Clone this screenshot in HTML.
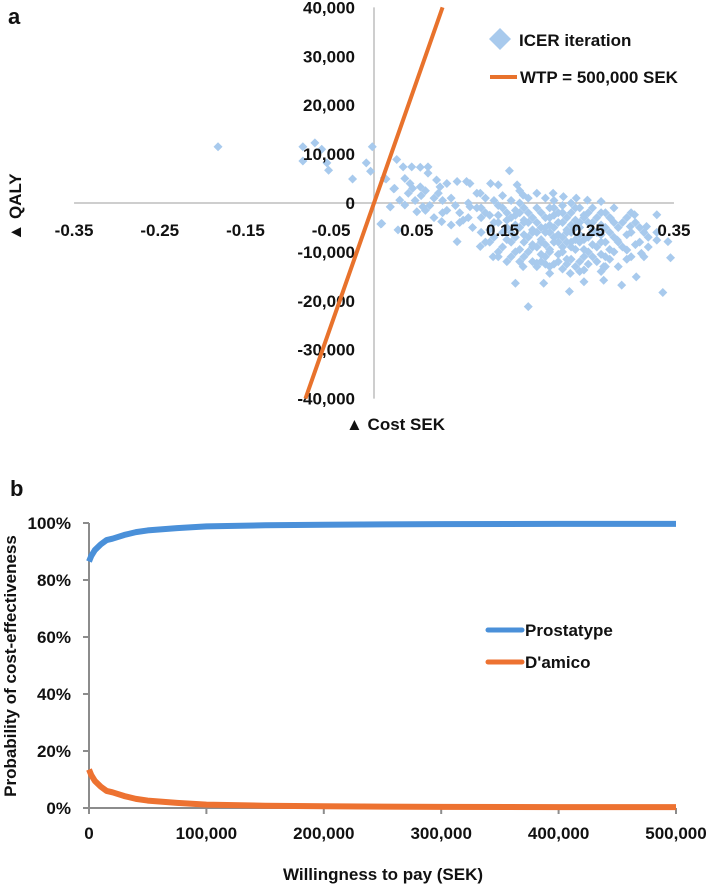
<!DOCTYPE html>
<html><head><meta charset="utf-8"><style>
body{margin:0;background:#fff}
svg{display:block;font-family:"Liberation Sans",Arial,sans-serif;font-weight:bold;fill:#111}
</style></head><body>
<svg id="s" width="708" height="885" viewBox="0 0 708 885">
<text x="8" y="24" font-size="22">a</text>
<text x="10" y="496" font-size="22">b</text>
<g id="ga"></g>
<g id="gb"></g>
</svg>
<script>
const NS='http://www.w3.org/2000/svg';
function mk(p,t,a){const e=document.createElementNS(NS,t);for(const k in a)e.setAttribute(k,a[k]);p.appendChild(e);return e;}
// ---- Chart a data ----
const aXTicks=[-0.35,-0.25,-0.15,-0.05,0.05,0.15,0.25,0.35];
const aXTickLabels=['-0.35','-0.25','-0.15','-0.05','0.05','0.15','0.25','0.35'];
const aYTicks=[40000,30000,20000,10000,0,-10000,-20000,-30000,-40000];
const aYTickLabels=['40,000','30,000','20,000','10,000','0','-10,000','-20,000','-30,000','-40,000'];
const wtp=500000;
const icerX=[-0.182,-0.083,-0.083,-0.069,-0.061,-0.055,-0.053,-0.025,-0.009,-0.004,-0.002,0.012,0.014,0.023,0.008,0.019,0.028,
0.0265,0.034,0.044,0.054,0.063,0.036,0.042,0.054,0.063,0.073,0.077,0.085,0.097,0.108,0.112,0.158,0.024,0.03,0.036,0.019,0.009,0.05,0.057,0.079,0.097,0.104,0.112,0.124,0.139,0.124,0.136,0.145,0.167,0.174,0.209,0.221,0.236,0.249,0.265,0.165,0.18,0.198,0.228,0.245,0.268,0.289,0.306,0.337,0.346,0.343,0.33,0.318,0.33,0.304,0.299,0.276,0.284,0.295,0.312,0.174,0.268,0.229,0.245,0.205,0.19,
0.13,0.14,0.15,0.15,0.16,0.16,0.17,0.17,0.18,0.18,0.18,0.19,0.19,0.19,0.2,0.2,0.2,0.21,0.21,0.21,0.22,0.22,0.22,0.23,0.23,0.23,0.24,0.24,0.24,0.25,0.25,0.25,0.26,0.26,0.27,0.27,0.28,0.28,0.165,0.175,0.185,0.195,0.205,0.215,0.225,0.235,0.245,0.255,0.155,0.145,0.135,0.125,0.12,0.115,0.11,0.1,0.095,0.09,0.085,0.08,0.075,0.07,0.065,0.06,0.055,0.048,0.045,0.04,0.16,0.17,0.19,0.21,0.22,0.23,0.24,0.26,0.27,0.29,0.3,0.31,0.29,0.3,0.32,0.285,0.265,0.15,0.14,0.13,0.155,0.145,0.2,0.19,0.18,0.21,0.22,0.23,0.24,0.25,0.26,0.27,0.28,0.165,0.175,0.185,0.195,0.205,0.215,0.225,0.235,0.245,0.255,0.265,0.275,0.17,0.16,0.2,0.21,0.22,0.23,0.24,0.25,0.18,0.19,0.2,0.21,0.22,0.23,0.24,0.17,0.2,0.27,0.28,0.3,0.31,0.32,0.33,
0.125,0.125,0.135,0.135,0.145,0.145,0.145,0.155,0.155,0.155,0.165,0.165,0.165,0.175,0.175,0.175,0.175,0.185,0.185,0.185,0.185,0.195,0.195,0.195,0.195,0.205,0.205,0.205,0.205,0.205,0.215,0.215,0.215,0.215,0.225,0.225,0.225,0.225,0.235,0.235,0.235,0.235,0.245,0.245,0.245,0.255,0.255,0.255,0.255,0.265,0.265,0.265,0.265,0.275,0.275,0.275,0.285,0.285,0.295,0.295,0.295,0.305,0.305,0.315,0.315,
0.1,0.11,0.12,0.13,0.14,0.15,0.16,0.17,0.06,0.07,0.08,0.09];
const icerY=[11.5,11.5,8.6,12.3,11,8.2,6.7,4.9,8.2,6.5,11.5,5.1,4.9,2.9,-4.3,-0.8,-5.5,
8.9,7.4,7.4,7.3,7.4,5.0,4.0,3.3,6.1,4.7,3.3,4.0,4.4,4.4,4.0,6.6,2.98,0.6,-0.4,-0.76,-4.2,-1.8,-0.76,-3.8,-7.9,-3.5,-0.76,-8.9,-11,2.0,4.0,3.7,3.7,1.6,2.0,1.3,1.0,0.6,0.3,-16.4,-21.2,-16.4,-18.1,-16.1,-15.8,-16.8,-15.1,-18.3,-11.2,-7.9,-2.4,-4.8,-7.6,-2.4,-4.8,-3.1,-7.6,-9.6,-10.3,-13,-13,-14.4,-13.7,-14.4,-12.3,
-2,-4,-1,-6,-3,-8,-5,0,-2,-7,-10,-4,-1,-9,-6,-3,-11,-5,-8,-1,-4,-7,-10,-6,-2,-9,-5,-8,-12,-7,-4,-10,-6,-9,-8,-5,-7,-10,-4.5,-6.5,-5.5,-7.5,-4.5,-6.5,-5.5,-7.5,-9.5,-8.5,-3.5,-2.5,-5.5,-3,-1,-5,-3,-2,-0.5,1,-1.5,0.5,2,1,-0.5,2.5,1.5,0.5,3,2,-11,-12,-13,-12.5,-13.5,-11.5,-14,-12,-11,-9,-6,-8,-4,-11,-7,-13,-14,-9,-7,-8,-12,-10,1,2,1,0.5,-0.5,0,-1,-2,-3,-2,-4,-1.5,-3.5,-8.5,-10.5,-9.5,-10.5,-11.5,-3.5,-2.5,-5.5,-6.5,-9.5,-9.5,-6,-8.5,-2.5,-2,-4.5,-6.5,-12.5,-4,-6,-5,-7,-9,-8,-4,-2,-12.5,-13,-1,-2,-5,-9,-6,
-1,-6,-2.5,-8,-4,-0.5,-11,-2,-5,-7.5,-2.5,-7,-10,-1,-4,-8,-11,-3,-6,-9,-12,-2,-5,-8,-12,-1,-3,-6,-10,-13,-2,-4,-8,-12,-3,-6,-8,-12.5,-1,-5,-9.5,-13,-3,-7.5,-11,-1,-4,-6,-11,-2,-4.5,-8,-10.5,-3,-6,-11.5,-5,-8,-3,-6.5,-11.5,-4,-8.5,-6,-11,
-4,0,2,1,0.5,1.5,0.5,2.5,-1.5,-3,-2,-4.5];
// ---- Chart b data ----
const wtpValues=[0,2000,5000,10000,15000,20000,30000,40000,50000,75000,100000,150000,200000,300000,400000,500000];
const prostatype=[86.5,88.5,90.5,92.5,94,94.5,95.8,96.8,97.4,98.2,98.8,99.2,99.4,99.6,99.7,99.7];
const damico=[13.5,11.5,9.5,7.5,6,5.5,4.2,3.2,2.6,1.8,1.2,0.8,0.6,0.4,0.3,0.3];
const bXTicks=[0,100000,200000,300000,400000,500000];
const bXTickLabels=['0','100,000','200,000','300,000','400,000','500,000'];
const bYTicks=[0,20,40,60,80,100];
const bYTickLabels=['0%','20%','40%','60%','80%','100%'];

// ---- Draw chart a ----
const ga=document.getElementById('ga');
const ax=v=>374+v*857, ay=v=>203-v/1000*4.89;
let e;
e=mk(ga,'line',{x1:ax(-0.35),x2:ax(0.35),y1:ay(0),y2:ay(0),stroke:'#bdbdbd','stroke-width':1.5});


e=mk(ga,'line',{x1:ax(0),x2:ax(0),y1:ay(40000),y2:ay(-40000),stroke:'#bdbdbd','stroke-width':1.5});


icerX.forEach((x,i)=>{const cx=ax(x),cy=ay(icerY[i]*1000);
e=mk(ga,'path',{d:`M${cx} ${cy-4.5}L${cx+4.5} ${cy}L${cx} ${cy+4.5}L${cx-4.5} ${cy}Z`,fill:'#a8caed'});

});
aXTicks.forEach((t,i)=>{e=mk(ga,'text',{x:ax(t),y:236,'font-size':17,'text-anchor':'middle'});e.textContent=aXTickLabels[i];

});
aYTicks.forEach((t,i)=>{e=mk(ga,'text',{x:355,y:ay(t)+6,'font-size':17,'text-anchor':'end'});e.textContent=aYTickLabels[i];

});
e=mk(ga,'line',{x1:ax(-40000/wtp),y1:ay(-40000),x2:ax(40000/wtp),y2:ay(40000),stroke:'#e8722c','stroke-width':4});


e=mk(ga,'path',{d:'M500 28L511 39L500 50L489 39Z',fill:'#a8caed'});


e=mk(ga,'text',{x:519,y:46,'font-size':17});e.textContent='ICER iteration';


e=mk(ga,'line',{x1:490,x2:517,y1:77,y2:77,stroke:'#e8722c','stroke-width':4});


e=mk(ga,'text',{x:520,y:83,'font-size':17});e.textContent='WTP = 500,000 SEK';


e=mk(ga,'text',{x:0,y:0,'font-size':17,transform:'translate(21,207) rotate(-90)','text-anchor':'middle'});e.textContent='▲ QALY';


e=mk(ga,'text',{x:346,y:430,'font-size':17});e.textContent='▲ Cost SEK';



// ---- Draw chart b ----
const gb=document.getElementById('gb');
const bx=v=>89+v/500000*587, by=v=>808-v*2.85;
e=mk(gb,'line',{x1:89,x2:676,y1:by(0),y2:by(0),stroke:'#8c8c8c','stroke-width':2});


e=mk(gb,'line',{x1:89,x2:89,y1:by(100),y2:by(0),stroke:'#8c8c8c','stroke-width':2});


bXTicks.forEach((t,i)=>{mk(gb,'line',{x1:bx(t),x2:bx(t),y1:808,y2:814,stroke:'#8c8c8c','stroke-width':2});
e=mk(gb,'text',{x:bx(t),y:839,'font-size':17,'text-anchor':'middle'});e.textContent=bXTickLabels[i];

});
bYTicks.forEach((t,i)=>{mk(gb,'line',{x1:83,x2:89,y1:by(t),y2:by(t),stroke:'#8c8c8c','stroke-width':2});
e=mk(gb,'text',{x:71,y:by(t)+6,'font-size':17,'text-anchor':'end'});e.textContent=bYTickLabels[i];

});
function series(vals,col,name){e=mk(gb,'polyline',{points:wtpValues.map((w,i)=>bx(w)+','+by(vals[i])).join(' '),fill:'none',stroke:col,'stroke-width':6,'stroke-linejoin':'round'});

}
series(prostatype,'#4a90d9','prostatype-line');
series(damico,'#ed7231','damico-line');
e=mk(gb,'line',{x1:488,x2:522,y1:630,y2:630,stroke:'#4a90d9','stroke-width':5,'stroke-linecap':'round'});


e=mk(gb,'text',{x:525,y:636,'font-size':17});e.textContent='Prostatype';


e=mk(gb,'line',{x1:488,x2:522,y1:662,y2:662,stroke:'#ed7231','stroke-width':5,'stroke-linecap':'round'});


e=mk(gb,'text',{x:525,y:668,'font-size':17});e.textContent="D'amico";


e=mk(gb,'text',{x:383,y:880,'font-size':17,'text-anchor':'middle'});e.textContent='Willingness to pay (SEK)';


e=mk(gb,'text',{x:0,y:0,'font-size':17,transform:'translate(16,666) rotate(-90)','text-anchor':'middle'});e.textContent='Probability of cost-effectiveness';


</script>
</body></html>
